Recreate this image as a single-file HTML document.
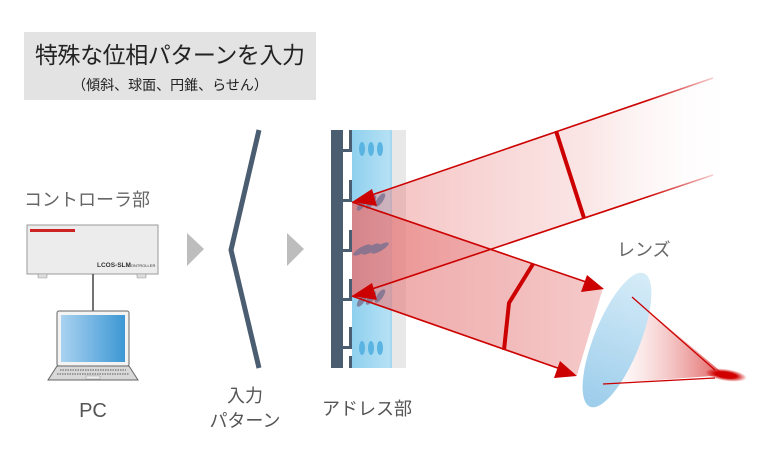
<!DOCTYPE html>
<html><head><meta charset="utf-8"><style>
body{margin:0;background:#fff}
svg{display:block}
text{font-family:"Liberation Sans","Noto Sans CJK JP",sans-serif}
</style></head><body>
<svg width="768" height="461" viewBox="0 0 768 461" xmlns="http://www.w3.org/2000/svg">
<defs>
<linearGradient id="ub" x1="352" y1="0" x2="740" y2="0" gradientUnits="userSpaceOnUse">
<stop offset="0" stop-color="#e87878" stop-opacity="0.5"/>
<stop offset="0.6" stop-color="#f0a8a8" stop-opacity="0.3"/>
<stop offset="1" stop-color="#ffffff" stop-opacity="0"/>
</linearGradient>
<linearGradient id="ln" x1="352" y1="0" x2="720" y2="0" gradientUnits="userSpaceOnUse">
<stop offset="0" stop-color="#cc0000"/><stop offset="0.8" stop-color="#cc0000"/><stop offset="1" stop-color="#cc0000" stop-opacity="0.1"/>
</linearGradient>
<linearGradient id="lb" x1="352" y1="0" x2="600" y2="0" gradientUnits="userSpaceOnUse">
<stop offset="0" stop-color="#e47070" stop-opacity="0.6"/>
<stop offset="1" stop-color="#f2b8b8" stop-opacity="0.75"/>
</linearGradient>
<linearGradient id="lc" x1="352" y1="0" x2="406" y2="0" gradientUnits="userSpaceOnUse">
<stop offset="0" stop-color="#8fd0ee"/><stop offset="0.75" stop-color="#b8e2f5"/><stop offset="1" stop-color="#e6f4fb"/>
</linearGradient>
<linearGradient id="lens" x1="0" y1="0" x2="0" y2="1">
<stop offset="0" stop-color="#d6ecf8"/><stop offset="1" stop-color="#9ccdeb"/>
</linearGradient>
<linearGradient id="cone" x1="610" y1="0" x2="725" y2="0" gradientUnits="userSpaceOnUse">
<stop offset="0" stop-color="#f4c0c0" stop-opacity="0"/><stop offset="1" stop-color="#d83030" stop-opacity="0.8"/>
</linearGradient>
<linearGradient id="scr" x1="0" y1="0" x2="1" y2="0">
<stop offset="0" stop-color="#a9d2f0"/><stop offset="1" stop-color="#3d97d4"/>
</linearGradient>
<radialGradient id="spot"><stop offset="0.5" stop-color="#d00000"/><stop offset="1" stop-color="#d00000" stop-opacity="0"/></radialGradient>
</defs>

<rect x="24" y="32" width="292" height="68" fill="#e3e3e3"/>
<text x="170" y="63" font-size="23" text-anchor="middle" fill="#222" textLength="270">特殊な位相パターンを入力</text>
<text x="170" y="90" font-size="14" text-anchor="middle" fill="#222">（傾斜、球面、円錐、らせん）</text>

<text x="24" y="206" font-size="18" fill="#666">コントローラ部</text>
<rect x="27" y="225" width="131" height="49" fill="#ececec" stroke="#9a9a9a"/>
<rect x="30" y="229" width="45" height="3" fill="#cc2222"/>
<text x="97" y="267" font-size="6.5" fill="#333" font-weight="bold">LCOS-SLM</text>
<text x="128" y="267" font-size="4" fill="#333">CONTROLLER</text>
<rect x="38" y="274" width="9" height="4" rx="1" fill="#ddd" stroke="#999" stroke-width="0.6"/>
<rect x="137" y="274" width="9" height="4" rx="1" fill="#ddd" stroke="#999" stroke-width="0.6"/>
<line x1="93" y1="274" x2="93" y2="311" stroke="#444" stroke-width="1.5"/>
<rect x="57" y="311" width="72" height="55" rx="2" fill="#f3f3f3" stroke="#666" stroke-width="1"/>
<rect x="61" y="315" width="64" height="47" fill="url(#scr)"/>
<polygon points="57,366 129,366 138,380 48,380" fill="#d8d8d8" stroke="#666" stroke-width="1"/>
<line x1="60" y1="370" x2="126" y2="370" stroke="#999" stroke-width="2" stroke-dasharray="1.5 1"/>
<line x1="57" y1="374" x2="129" y2="374" stroke="#999" stroke-width="2" stroke-dasharray="1.5 1"/>
<rect x="86" y="376" width="14" height="3" fill="#eee" stroke="#999" stroke-width="0.5"/>
<text x="93" y="417" font-size="20" text-anchor="middle" fill="#555">PC</text>

<polygon points="187,233 204,249 187,266" fill="#bdbdbd"/>
<polygon points="287,233 304,249 287,266" fill="#bdbdbd"/>

<polyline points="259,130 231,250 259,368" fill="none" stroke="#4b5d70" stroke-width="5"/>
<text x="245" y="402" font-size="18" text-anchor="middle" fill="#555">入力</text>
<text x="245" y="427" font-size="18" text-anchor="middle" fill="#555">パターン</text>

<rect x="392" y="130" width="14" height="238" fill="#e8e8e8"/>
<rect x="352" y="130" width="40" height="238" fill="url(#lc)"/>
<line x1="391" y1="130" x2="391" y2="368" stroke="#9fd4ee" stroke-width="1.5"/>
<rect x="331" y="130" width="12" height="238" fill="#4b5d70"/>
<g fill="#4b5d70">
<rect x="349" y="130" width="3" height="22"/><rect x="343" y="149" width="7" height="3"/>
<rect x="349" y="180" width="3" height="22"/><rect x="343" y="199" width="7" height="3"/>
<rect x="349" y="230" width="3" height="22"/><rect x="343" y="249" width="7" height="3"/>
<rect x="349" y="279" width="3" height="22"/><rect x="343" y="298" width="7" height="3"/>
<rect x="349" y="327" width="3" height="22"/><rect x="343" y="346" width="7" height="3"/>
<rect x="349" y="356" width="3" height="12"/>
</g>
<g fill="#5ab4e2">
<ellipse cx="362" cy="149" rx="3" ry="7"/><ellipse cx="371" cy="149" rx="3" ry="7"/><ellipse cx="380" cy="149" rx="3" ry="7"/>
<ellipse cx="362" cy="348" rx="3" ry="7"/><ellipse cx="371" cy="348" rx="3" ry="7"/><ellipse cx="380" cy="348" rx="3" ry="7"/>
</g>

<polygon points="352,202 713,78 745,78 745,165 713,175 352,296" fill="url(#ub)"/>
<polygon points="352,202 603,288 577,375 352,296" fill="url(#lb)"/>
<g fill="#7a7090" opacity="0.8">
<ellipse cx="362" cy="204" rx="3" ry="8" transform="rotate(35 362 204)"/><ellipse cx="371" cy="202" rx="3" ry="8" transform="rotate(35 371 202)"/><ellipse cx="380" cy="200" rx="3" ry="8" transform="rotate(35 380 200)"/>
<ellipse cx="362" cy="250" rx="3" ry="10" transform="rotate(60 362 250)"/><ellipse cx="371" cy="249" rx="3" ry="10" transform="rotate(60 371 249)"/><ellipse cx="380" cy="248" rx="3" ry="10" transform="rotate(60 380 248)"/>
<ellipse cx="362" cy="300" rx="3" ry="8" transform="rotate(35 362 300)"/><ellipse cx="371" cy="298" rx="3" ry="8" transform="rotate(35 371 298)"/><ellipse cx="380" cy="296" rx="3" ry="8" transform="rotate(35 380 296)"/>
</g>
<g stroke-width="1.6" fill="none">
<line x1="713" y1="78" x2="360" y2="199" stroke="url(#ln)"/>
<line x1="713" y1="175" x2="360" y2="293" stroke="url(#ln)"/>
<line x1="352" y1="202" x2="595" y2="285" stroke="#cc0000"/>
<line x1="352" y1="296" x2="569" y2="372" stroke="#cc0000"/>
</g>
<g fill="#cc0000">
<polygon points="352,202 372,189 377,206"/>
<polygon points="352,296 372,283 377,300"/>
<polygon points="604,289 581,292 587,275"/>
<polygon points="577,376 554,378 560,361"/>
</g>
<line x1="556" y1="131" x2="584" y2="218" stroke="#cc0000" stroke-width="4"/>
<polyline points="533,264 509,303 504,350" fill="none" stroke="#cc0000" stroke-width="4"/>

<text x="617" y="256" font-size="18" fill="#666">レンズ</text>
<polygon points="632,297 725,375 603,384" fill="url(#cone)"/>
<ellipse cx="617" cy="340" rx="23" ry="72" transform="rotate(22 617 340)" fill="url(#lens)"/>
<line x1="632" y1="297" x2="715" y2="370" stroke="#cc0000" stroke-width="1.3"/>
<line x1="603" y1="384" x2="715" y2="378" stroke="#cc0000" stroke-width="1.3"/>
<ellipse cx="726" cy="375" rx="21" ry="6" transform="rotate(8 726 375)" fill="url(#spot)"/>

<text x="322" y="415" font-size="18" fill="#555">アドレス部</text>
</svg>
</body></html>
